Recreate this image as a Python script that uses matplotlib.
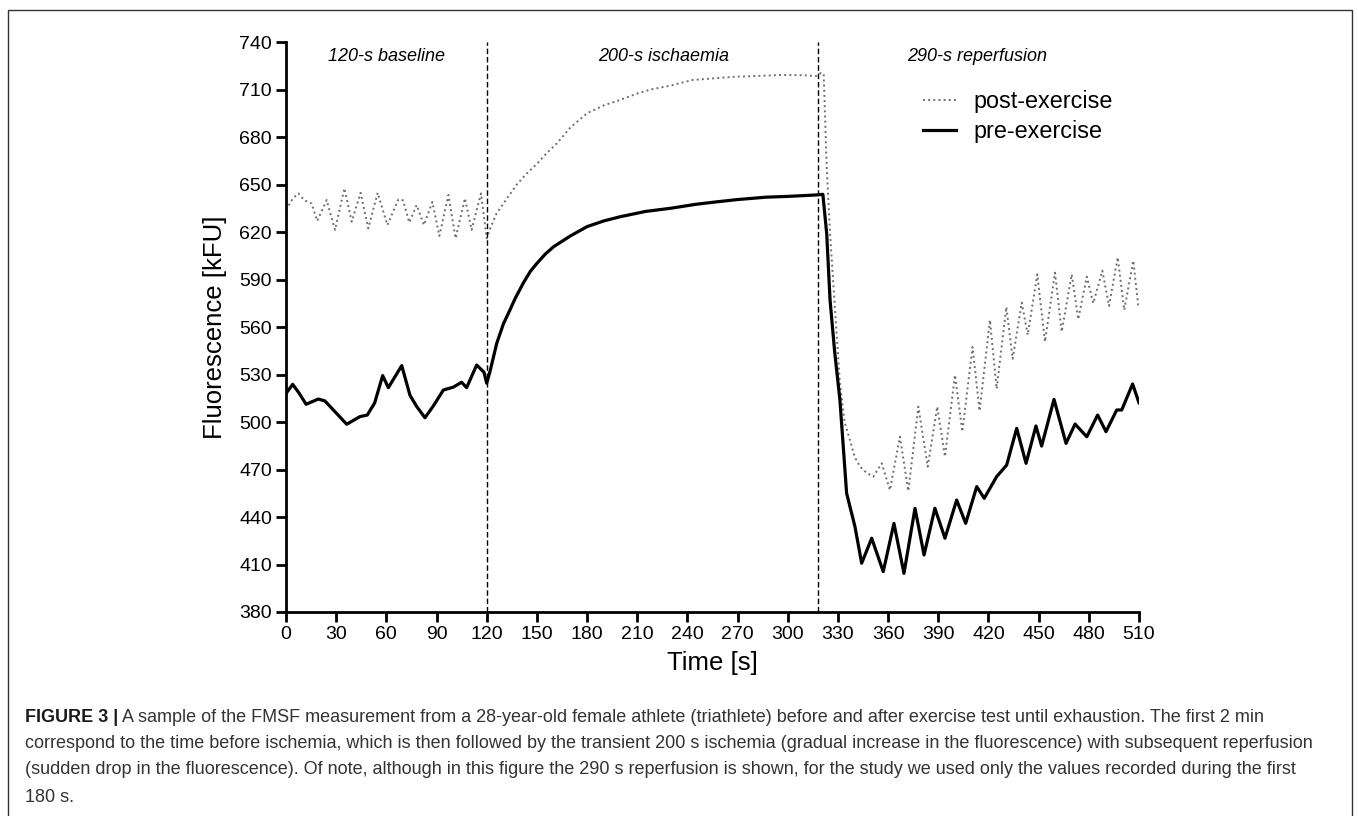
import matplotlib
matplotlib.use('Agg')
import matplotlib.pyplot as plt
from matplotlib.patches import Rectangle

plt.rcParams['font.family'] = ['Liberation Sans', 'DejaVu Sans']

# values (time in s, fluorescence in kFU)
post_time = [0, 4, 7.4, 11, 13.3, 15.3, 18.7, 24.3, 29.3, 34.9, 39.3, 44.6, 49.2, 54.8, 60.6,
             67.2, 70, 73.7, 78.1, 82.5, 87.5, 91.7, 97.1, 101.4, 107, 111, 116.6, 120,
             122, 126, 132, 138, 144, 150, 156, 162, 170, 180, 190, 200, 210, 218, 230, 243,
             255, 267, 280, 297, 310, 317, 320, 321.5, 323.3, 325.3, 327.9, 331.2, 334, 337.2,
             340, 343.2, 347, 351.2, 356.2, 361.1, 367.1, 372.1, 378.1, 383.7, 389.4, 394,
             400, 404.4, 410.5, 414.7, 420.9, 424.9, 430.7, 434.5, 439.9, 443.5, 449.2, 453.8,
             459.8, 463.8, 469.8, 473.7, 478.8, 482.7, 488.1, 492.1, 497.3, 501.2, 506.6, 509.6]
post_value = [634, 641, 644.4, 640, 639, 638, 627, 640.2, 621.3, 647.6, 626.5, 644.8, 622.3, 644.8, 624.4,
              640.6, 640, 626, 637, 624.4, 639, 617.5, 643.4, 616, 641.3, 621.3, 644.4, 616,
              622, 632, 641, 650, 657, 663, 670, 676, 686, 695, 700, 703.5, 707.5, 710, 712.5, 716,
              717, 718, 718.5, 719.2, 719, 718.5, 720.5, 720, 661, 619, 577, 524.5, 500, 488.6,
              478, 471.8, 468, 465.5, 473.9, 457, 490.7, 456.4, 509.7, 471.8, 509.7, 478.1,
              529.7, 493.9, 547.4, 507, 564.4, 521, 572.6, 539.9, 575.4, 555, 593.3, 550.7,
              594.3, 557, 593.3, 564.9, 591.8, 575, 595.6, 573.3, 604, 570.7, 601.9, 573.3]

pre_time = [0, 4, 8, 12, 19.3, 23.3, 29.3, 36.3, 44.2, 48.6, 53, 57.8, 61.2, 69.2, 74.1, 78,
            83.1, 88, 94.1, 100, 105, 108, 114, 118.4, 120,
            122, 126, 130, 134, 137, 142, 146, 150, 155, 160, 170, 180, 190, 200, 215, 230, 245,
            257, 270, 287, 300, 317, 321, 323.3, 325.3, 328, 331.2, 335.2, 340.2, 344.2, 350.2,
            357.1, 363.5, 369.5, 376.1, 381.5, 388, 394, 401, 406.4, 413, 417.5, 424.9, 430.9,
            436.9, 442.5, 448.4, 451.8, 459.2, 466.4, 471.8, 478.8, 485.3, 490.3, 496.7, 499.7,
            506.2, 510]
pre_value = [518, 523.8, 518, 511.2, 514.5, 513.3, 506.5, 498.6, 503.4, 504.4, 512, 529.3, 521.7, 535.6, 517, 510,
             502.7, 510, 520.2, 522, 525.1, 521.7, 536, 531.4, 524.5,
             532, 549.7, 562, 571, 578, 588, 595, 600.2, 606, 610.7, 617.5, 623.4, 627, 629.7, 633, 635, 637.5,
             639, 640.5, 642, 642.5, 643.4, 643.8, 619, 577, 545, 513.9, 455, 433.9, 410.8, 426.6,
             405.5, 436, 404.4, 445.5, 416, 445.5, 426.6, 450.7, 436, 459.2, 451.8, 465.5, 472.8,
             496, 473.9, 497.5, 484.8, 514.3, 486.5, 498.7, 490.7, 504.4, 493.9, 507.6, 507.6,
             524, 512.2]

phase_edges = [120, 318]
phase_labels = ['120-s baseline', '200-s ischaemia', '290-s reperfusion']
phase_label_x = [60, 226, 413]
x_ticks = list(range(0, 511, 30))
y_ticks = list(range(380, 741, 30))

caption_head = 'FIGURE 3 |'
caption_lines = [
    ' A sample of the FMSF measurement from a 28-year-old female athlete (triathlete) before and after exercise test until exhaustion. The first 2 min',
    'correspond to the time before ischemia, which is then followed by the transient 200 s ischemia (gradual increase in the fluorescence) with subsequent reperfusion',
    '(sudden drop in the fluorescence). Of note, although in this figure the 290 s reperfusion is shown, for the study we used only the values recorded during the first',
    '180 s.',
]

fig = plt.figure(figsize=(13.58, 8.16), dpi=100)
ax = fig.add_axes([0.2106, 0.25, 0.6281, 0.6985])

ax.plot(post_time, post_value, color='#6e6e6e', linestyle=':', linewidth=1.4, label='post-exercise')
ax.plot(pre_time, pre_value, color='black', linestyle='-', linewidth=2.3, label='pre-exercise')

for x in phase_edges:
    ax.axvline(x, color='black', linestyle=(0, (4, 2)), linewidth=1.0)

for x, lab in zip(phase_label_x, phase_labels):
    ax.text(x, 731, lab, ha='center', va='center', fontsize=13, style='italic')

ax.set_xlim(0, 510)
ax.set_ylim(380, 740)
ax.set_xticks(x_ticks)
ax.set_yticks(y_ticks)
ax.spines['top'].set_visible(False)
ax.spines['right'].set_visible(False)
ax.spines['left'].set_linewidth(2)
ax.spines['bottom'].set_linewidth(2)
ax.tick_params(axis='both', direction='out', length=7, width=2, labelsize=14, pad=3)
ax.set_xlabel('Time [s]', fontsize=18.5, labelpad=6)
ax.set_ylabel('Fluorescence [kFU]', fontsize=18.5, labelpad=9)

ax.legend(loc='upper left', bbox_to_anchor=(0.747, 0.915), frameon=False, fontsize=16.8,
          handlelength=1.4, handletextpad=0.75, labelspacing=0.3, borderpad=0, borderaxespad=0)

# caption + frame
fig.add_artist(Rectangle((8 / 1358, -0.1), 1344 / 1358, 1.1 - 10 / 816, transform=fig.transFigure,
                         fill=False, edgecolor='#333333', linewidth=1.0, clip_on=False))
cap_y = [718, 744, 770, 797]
cap_size = 13
head = fig.text(25 / 1358, 1 - cap_y[0] / 816, caption_head, fontsize=cap_size, fontweight='bold',
                color='#1a1a1a', va='center')
r = fig.canvas.get_renderer()
bb = head.get_window_extent(renderer=r)
fig.text(bb.x1 / 1358, 1 - cap_y[0] / 816, caption_lines[0], fontsize=cap_size, color='#333333', va='center')
for yy, line in zip(cap_y[1:], caption_lines[1:]):
    fig.text(25 / 1358, 1 - yy / 816, line, fontsize=cap_size, color='#333333', va='center')

fig.savefig('out.png', dpi=100)
